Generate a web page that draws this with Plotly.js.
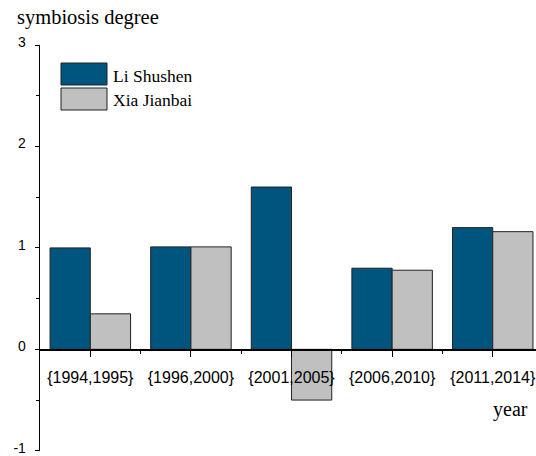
<!DOCTYPE html>
<html>
<head>
<meta charset="utf-8">
<script src="https://cdn.plot.ly/plotly-3.0.1.min.js"></script>
<style>html,body{margin:0;padding:0;background:#fff;}#chart{width:536px;height:456px;}</style>
</head>
<body>
<div id="chart"></div>
<script>
// ---- data ----
const categories = ["{1994,1995}", "{1996,2000}", "{2001,2005}", "{2006,2010}", "{2011,2014}"];
const seriesNames = ["Li Shushen", "Xia Jianbai"];
const liShushen = [1.0, 1.01, 1.6, 0.8, 1.2];
const xiaJianbai = [0.35, 1.01, -0.5, 0.78, 1.16];
const yTickVals = [-1, 0, 1, 2, 3];
const yTickText = ["-1", "0", "1", "2", "3"];

// ---- layout helpers (pixel -> paper) ----
const W = 536, H = 456;
const M = {l: 40, r: 0, t: 45, b: 5};
const PW = W - M.l - M.r, PH = H - M.t - M.b;
const px = v => (v - M.l) / PW;
const py = v => (H - M.b - v) / PH;

const xIdx = categories.map((_, i) => i);
const colors = ["#00557f", "#c0c0c0"];
const edge = "#222222";

const traces = [
  {type: "bar", name: seriesNames[0], x: xIdx, y: liShushen,
   marker: {color: colors[0], line: {color: edge, width: 1}}, showlegend: false, hoverinfo: "x+y"},
  {type: "bar", name: seriesNames[1], x: xIdx, y: xiaJianbai,
   marker: {color: colors[1], line: {color: edge, width: 1}}, showlegend: false, hoverinfo: "x+y"}
];

const serif = "Liberation Serif";
const sans = "Liberation Sans";

const legendBoxes = [[63, 85], [88, 110]];
const shapes = legendBoxes.map((b, i) => ({
  type: "rect", xref: "paper", yref: "paper",
  x0: px(61), x1: px(107), y0: py(b[1]), y1: py(b[0]),
  fillcolor: colors[i], line: {color: edge, width: 1}
}));
const annotations = seriesNames.map((n, i) => ({
  text: n, xref: "paper", yref: "paper", x: px(111), y: py([76, 100][i]),
  xanchor: "left", yanchor: "middle", showarrow: false,
  font: {family: serif, size: 17.5, color: "#000"}
}));
annotations.push({
  text: "year", xref: "paper", yref: "paper", x: px(530), y: py(409),
  xanchor: "right", yanchor: "middle", showarrow: false,
  font: {family: serif, size: 20, color: "#000"}
});
annotations.push({
  text: "symbiosis degree", xref: "paper", yref: "paper", x: px(15), y: py(17),
  xanchor: "left", yanchor: "middle", showarrow: false,
  font: {family: serif, size: 20.5, color: "#000"}
});

const layout = {
  width: W, height: H,
  margin: M,
  paper_bgcolor: "#fff", plot_bgcolor: "#fff",
  barmode: "group", bargap: 0.2, bargroupgap: 0,
  showlegend: false,
  xaxis: {
    type: "linear", range: [-0.5, 4.43], fixedrange: true,
    anchor: "free", position: 0.25,
    tickmode: "array", tickvals: xIdx, ticktext: categories,
    ticks: "outside", ticklen: 6, tickwidth: 1, tickcolor: "#000",
    minor: {tickmode: "array", tickvals: [0.5, 1.5, 2.5, 3.5], ticks: "outside", ticklen: 3, tickwidth: 1, tickcolor: "#000"},
    showline: true, linecolor: "#000", linewidth: 2,
    showgrid: false, zeroline: false,
    ticklabelstandoff: 7,
    ticklabeloverflow: "allow",
    tickfont: {family: sans, size: 16, color: "#000"}
  },
  yaxis: {
    range: [-1.002, 3], fixedrange: true,
    tickmode: "array", tickvals: yTickVals, ticktext: yTickText,
    ticks: "outside", ticklen: 4, tickwidth: 1, tickcolor: "#000",
    minor: {tickmode: "array", tickvals: [-0.5, 0.5, 1.5, 2.5], ticks: "outside", ticklen: 3, tickwidth: 1, tickcolor: "#000"},
    showline: true, linecolor: "#000", linewidth: 1.3,
    showgrid: false, zeroline: false,
    ticklabelstandoff: 6,
    ticklabelshift: -3,
    ticklabeloverflow: "allow",
    tickfont: {family: sans, size: 14, color: "#000"}
  },
  shapes: shapes,
  annotations: annotations
};

Plotly.newPlot("chart", traces, layout, {staticPlot: true, displayModeBar: false});
</script>
</body>
</html>
